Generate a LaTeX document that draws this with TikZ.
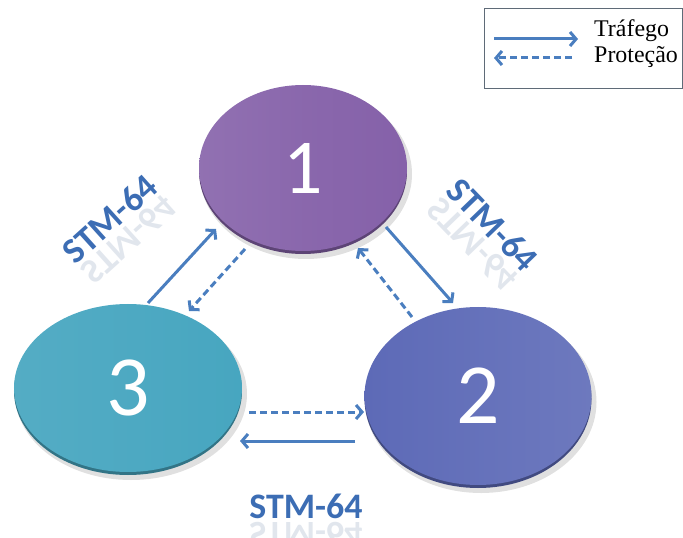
\documentclass[tikz,border=0pt]{standalone}
\usepackage{fontspec}
\setmainfont{Liberation Serif}
\newfontfamily\carlito{Carlito}
\usetikzlibrary{arrows.meta,shapes.geometric}

\definecolor{flowblue}{HTML}{4A7EBF}
\definecolor{labelblue}{HTML}{3C6DB4}
\definecolor{discone}{HTML}{8561A9}
\definecolor{disctwo}{HTML}{5D6AB7}
\definecolor{discthree}{HTML}{47A6C0}
\definecolor{legendedge}{HTML}{5F6B78}

\tikzset{
  disc/.style={ellipse, inner sep=0pt, text=white},
  rim/.style={ellipse, inner sep=0pt},
  discshadow/.style={ellipse, inner sep=0pt, fill=black, opacity=.12},
  flow/.style={draw=flowblue, line width=3bp,
    -{Straight Barb[length=6bp,width=14bp]}},
  prot/.style={flow, dash pattern=on 7bp off 4bp},
  stm/.style={font=\carlito\bfseries\fontsize{36}{36}\selectfont,
    text=labelblue, inner sep=0pt},
  stmmirror/.style={stm, text=labelblue!55!gray, opacity=.18},
  legtext/.style={font=\fontsize{24}{26}\selectfont, inner sep=0pt, anchor=base west},
}

\begin{document}
\begin{tikzpicture}[x=1bp,y=-1bp]
\useasboundingbox (0,0) rectangle (683,538);

% ---- disc 1 (top) ----
\node[discshadow, minimum width=212bp, minimum height=170bp] at (306,174) {};
\node[rim, fill=discone!70!black, minimum width=208bp, minimum height=166bp] at (303,171) {};
\node[disc, left color=discone!90!white, right color=discone, middle color=discone!96!white,
      minimum width=208bp, minimum height=166bp,
      font=\carlito\fontsize{78}{78}\selectfont] (n1) at (303,168) {1};

% ---- disc 2 (right) ----
\node[discshadow, minimum width=231bp, minimum height=182bp] at (481,402) {};
\node[rim, fill=disctwo!70!black, minimum width=227bp, minimum height=178bp] at (478,399) {};
\node[disc, left color=disctwo, right color=disctwo!90!white,
      minimum width=227bp, minimum height=178bp,
      font=\carlito\fontsize{86}{86}\selectfont] (n2) at (478,396) {2};

% ---- disc 3 (left) ----
\node[discshadow, minimum width=232bp, minimum height=172bp] at (131,394) {};
\node[rim, fill=discthree!70!black, minimum width=228bp, minimum height=168bp] at (128,391) {};
\node[disc, left color=discthree!93!white, right color=discthree,
      minimum width=228bp, minimum height=168bp,
      font=\carlito\fontsize{86}{86}\selectfont] (n3) at (128,388) {3};

% ---- link end points ----
\coordinate (p31a) at (148,303);  \coordinate (p31b) at (216,229);
\coordinate (p13a) at (245,249);  \coordinate (p13b) at (189,311);
\coordinate (p12a) at (386,227);  \coordinate (p12b) at (453,303);
\coordinate (p21a) at (412,317);  \coordinate (p21b) at (358,248);
\coordinate (p32a) at (249,412);  \coordinate (p32b) at (364,412);
\coordinate (p23a) at (355,441);  \coordinate (p23b) at (240,441);

% traffic (solid) and protection (dashed)
\draw[flow] (p31a) -- (p31b);
\draw[prot] (p13a) -- (p13b);
\draw[flow] (p12a) -- (p12b);
\draw[prot] (p21a) -- (p21b);
\draw[prot] (p32a) -- (p32b);
\draw[flow] (p23a) -- (p23b);

% ---- STM-64 labels, each with a faded reflection under its baseline ----
\begin{scope}[shift={(118,228)}, rotate=42]
  \node[stm, anchor=base, transform shape] (s31) at (0,0) {STM-64};
  \node[stmmirror, anchor=base, transform shape, yscale=-1] at (0,4) {STM-64};
\end{scope}

\begin{scope}[shift={(484,233)}, rotate=-46]
  \node[stm, anchor=base, transform shape] (s12) at (0,0) {STM-64};
  \node[stmmirror, anchor=base, transform shape, yscale=-1] at (0,4) {STM-64};
\end{scope}

\begin{scope}[shift={(306,518)}]
  \node[stm, anchor=base, transform shape] (s23) at (0,0) {STM-64};
  \node[stmmirror, anchor=base, transform shape, yscale=-1] at (0,4) {STM-64};
\end{scope}

% ---- legend ----
\node[draw=legendedge, line width=1bp, anchor=north west, inner sep=0pt,
      minimum width=198bp, minimum height=80bp] (legend) at (483.5,8.5) {};
\node[legtext] (lt1) at (594,37) {Tráfego};
\node[legtext] (lt2) at (594,63) {Proteção};
\coordinate (la1) at (494,39);  \coordinate (lb1) at (578,39);
\coordinate (la2) at (572,58);  \coordinate (lb2) at (494,58);
\draw[flow] (la1) -- (lb1);
\draw[prot] (la2) -- (lb2);
\end{tikzpicture}
\end{document}
